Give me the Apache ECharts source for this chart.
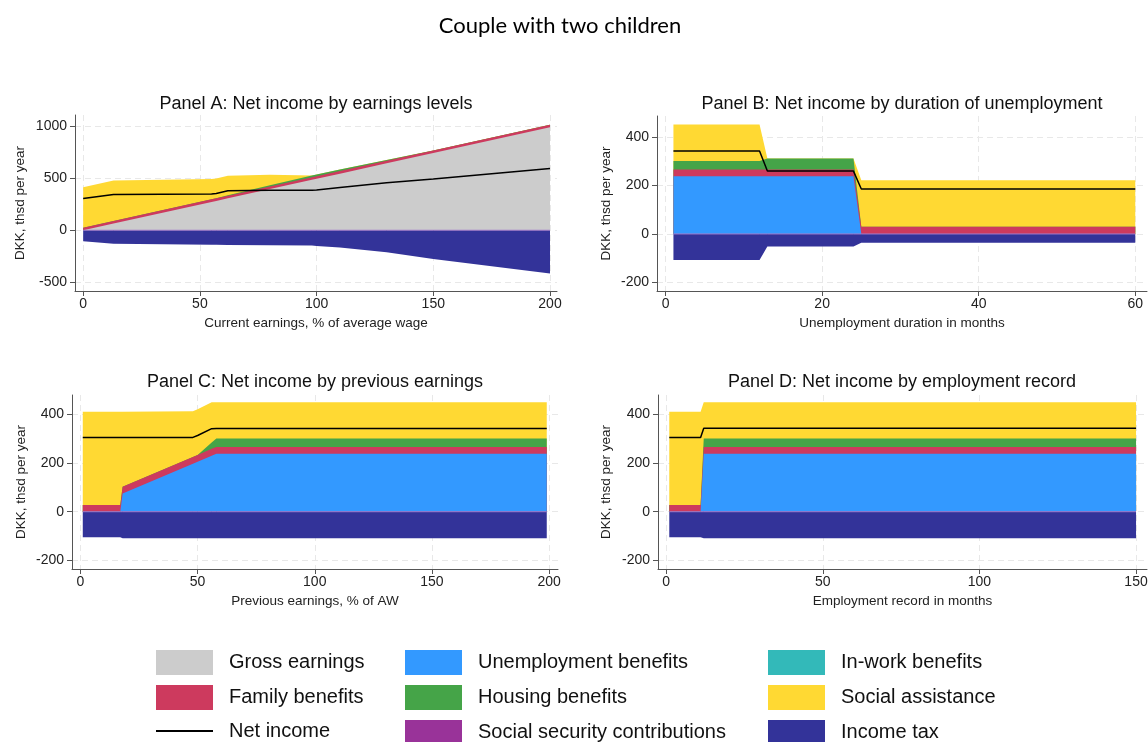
<!DOCTYPE html>
<html><head><meta charset="utf-8">
<script src="https://cdn.jsdelivr.net/npm/echarts@6/dist/echarts.min.js"></script>
<style>html,body{margin:0;padding:0;background:#fff}#c{width:1148px;height:742px}</style>
</head><body><div id="c"></div>
<script>
// ---------- Panel A: by earnings levels (% of average wage) ----------
const aX       = [0, 13, 55, 57, 62, 80, 98, 100, 110, 130, 150, 200];
const aGross   = [0, 64, 271, 281, 306, 394, 483, 493, 542, 641, 740, 986];
const aFamily  = [25, 25, 25, 25, 25, 25, 25, 25, 25, 25, 25, 25];
const aHousing = [0, 0, 0, 0, 5, 12, 16, 16, 14, 6, 0, 0];
const aSocial  = [387, 387, 194, 189, 185, 100, 0, 0, 0, 0, 0, 0];
const aSSC     = [0, 0, 0, 0, 0, 0, 0, 0, 0, 0, 0, 0];
const aTax     = [-105, -130, -140, -140, -142, -144, -147, -150, -165, -210, -275, -415];
const aNet     = [305, 342, 348, 352, 378, 382, 383, 385, 410, 455, 490, 592];

// ---------- Panel B: by duration of unemployment (months) ----------
const bX       = [1, 12, 13, 24, 25, 60];
const bUB      = [238, 238, 238, 238, 0, 0];
const bFamily  = [28, 28, 28, 28, 30, 30];
const bHousing = [35, 35, 45, 45, 0, 0];
const bSocial  = [150, 150, 0, 0, 191, 191];
const bSSC     = [0, 0, 0, 0, 0, 0];
const bTax     = [-107, -107, -52, -52, -36, -36];
const bNet     = [342, 342, 259, 259, 185, 185];

// ---------- Panel C: by previous earnings (% of AW) ----------
const cX       = [1, 17, 18, 48, 50, 56, 58, 199];
const cUB      = [0, 0, 75, 197, 205, 230, 238, 238];
const cFamily  = [28, 28, 28, 28, 28, 28, 28, 28];
const cHousing = [0, 0, 0, 0, 0, 26, 35, 35];
const cSocial  = [382, 382, 307, 187, 188, 165, 148, 148];
const cSSC     = [0, 0, 0, 0, 0, 0, 0, 0];
const cTax     = [-105, -105, -109, -109, -109, -109, -109, -109];
const cNet     = [305, 305, 305, 305, 313, 341, 342, 342];

// ---------- Panel D: by employment record (months) ----------
const dX       = [1, 11, 12, 150];
const dUB      = [0, 0, 238, 238];
const dFamily  = [28, 28, 28, 28];
const dHousing = [0, 0, 35, 35];
const dSocial  = [382, 382, 148, 148];
const dSSC     = [0, 0, 0, 0];
const dTax     = [-105, -105, -109, -109];
const dNet     = [305, 305, 343, 343];

// ---------- tick labels ----------
const aXTicks = [0, 50, 100, 150, 200];
const aYTicks = [-500, 0, 500, 1000];
const bXTicks = [0, 20, 40, 60];
const cXTicks = [0, 50, 100, 150, 200];
const dXTicks = [0, 50, 100, 150];
const bcdYTicks = [-200, 0, 200, 400];

const F = 'Liberation Sans, Arial, sans-serif';
const C = {
  gross: '#cccccc', ub: '#3399ff', inwork: '#33b9b9', family: '#cd3a5e',
  housing: '#45a448', social: '#ffd933', ssc: '#993399', tax: '#333399'
};

// cumulative sums of stacked components (element-wise)
function cum() {
  const arrs = Array.prototype.slice.call(arguments);
  return arrs[0].map((_, i) => arrs.reduce((s, a) => s + a[i], 0));
}
function pts(xs, ys) { return xs.map((x, i) => [x, ys[i]]); }
function area(name, color, xs, ys, idx) {
  return { name, type: 'line', xAxisIndex: idx, yAxisIndex: idx, data: pts(xs, ys),
    symbol: 'none', color, lineStyle: { width: 0 },
    areaStyle: { color, opacity: 1, origin: 0 }, silent: true, z: 2 };
}
function sscLine(xs, ys, idx) {
  return { name: 'Social security contributions', type: 'line', xAxisIndex: idx, yAxisIndex: idx,
    data: pts(xs, ys), symbol: 'none', color: C.ssc,
    lineStyle: { width: 1, color: '#a27ccc' }, silent: true, z: 3 };
}
function netLine(xs, ys, idx) {
  return { name: 'Net income', type: 'line', xAxisIndex: idx, yAxisIndex: idx, data: pts(xs, ys),
    symbol: 'none', color: '#000', lineStyle: { width: 1.5, color: '#000' }, silent: true, z: 4 };
}
// draws the stacked layers top-down so each band shows between its top and the one below
function panel(idx, xs, base, baseName, baseColor, fam, hous, soc, tax, ssc, net) {
  return [
    area('Social assistance', C.social, xs, cum(base, fam, hous, soc), idx),
    area('Housing benefits', C.housing, xs, cum(base, fam, hous), idx),
    area('Family benefits', C.family, xs, cum(base, fam), idx),
    area(baseName, baseColor, xs, base, idx),
    area('Income tax', C.tax, xs, tax, idx),
    sscLine(xs, ssc, idx),
    netLine(xs, net, idx)
  ];
}

const axisCommon = {
  type: 'value',
  axisLine: { show: true, onZero: false, lineStyle: { color: '#555', width: 1 } },
  splitLine: { show: true, lineStyle: { color: '#e8e8e8', type: [6, 4], width: 1 } },
  nameLocation: 'middle',
  nameTextStyle: { fontSize: 13.5, color: '#222', fontFamily: F }
};
function xAx(idx, min, max, ticks, name, gap) {
  return Object.assign({}, axisCommon, {
    gridIndex: idx, min, max, name, nameGap: gap, position: 'bottom',
    axisTick: { show: true, length: 5, customValues: ticks, lineStyle: { color: '#555' } },
    axisLabel: { customValues: ticks, fontSize: 14, color: '#222', margin: 6, fontFamily: F,
      formatter: v => String(v) }
  });
}
function yAx(idx, min, max, ticks, gap) {
  return Object.assign({}, axisCommon, {
    gridIndex: idx, min, max, name: 'DKK, thsd per year', nameGap: gap, position: 'left',
    axisTick: { show: true, length: 5, customValues: ticks, lineStyle: { color: '#555' } },
    axisLabel: { customValues: ticks, fontSize: 14, color: '#222', margin: 8, fontFamily: F,
      formatter: v => String(v) }
  });
}

const titleStyle = { fontFamily: F, fontSize: 18, fontWeight: 'normal', color: '#111' };
const legendText = { fontFamily: F, fontSize: 20, color: '#111', padding: [0, 0, 0, 11] };
function legend(left, top, itemHeight, items) {
  return { left, top, height: 110, padding: 0, orient: 'vertical', itemWidth: 57, itemHeight, itemGap: 10,
    selectedMode: false, textStyle: legendText, data: items };
}

const option = {
  animation: false,
  backgroundColor: '#fff',
  title: [
    { text: 'Couple with two children', left: 560, top: 15, textAlign: 'center', padding: 0,
      textStyle: { fontFamily: 'Lato, sans-serif', fontSize: 22, fontWeight: 'normal', color: '#000' } },
    { text: 'Panel A: Net income by earnings levels', left: 316, top: 95, textAlign: 'center', padding: 0, textStyle: titleStyle },
    { text: 'Panel B: Net income by duration of unemployment', left: 902, top: 95, textAlign: 'center', padding: 0, textStyle: titleStyle },
    { text: 'Panel C: Net income by previous earnings', left: 315, top: 373, textAlign: 'center', padding: 0, textStyle: titleStyle },
    { text: 'Panel D: Net income by employment record', left: 902, top: 373, textAlign: 'center', padding: 0, textStyle: titleStyle }
  ],
  grid: [
    { left: 75, top: 115, width: 482, height: 176, containLabel: false, outerBoundsMode: 'none' },
    { left: 657, top: 116, width: 490, height: 175, containLabel: false, outerBoundsMode: 'none' },
    { left: 72, top: 395, width: 486, height: 174, containLabel: false, outerBoundsMode: 'none' },
    { left: 658, top: 395, width: 489, height: 174, containLabel: false, outerBoundsMode: 'none' }
  ],
  xAxis: [
    xAx(0, -3.5, 203, aXTicks, 'Current earnings, % of average wage', 25),
    xAx(1, -1.1, 61.5, bXTicks, 'Unemployment duration in months', 25),
    xAx(2, -3.6, 203.8, cXTicks, 'Previous earnings, % of AW', 25),
    xAx(3, -2.6, 153.5, dXTicks, 'Employment record in months', 25)
  ],
  yAxis: [
    yAx(0, -582, 1104, aYTicks, 48),
    yAx(1, -235, 486, bcdYTicks, 44),
    yAx(2, -235, 479, bcdYTicks, 44),
    yAx(3, -235, 479, bcdYTicks, 45)
  ],
  legend: [
    legend(156, 650, 25, [{ name: 'Gross earnings', icon: 'rect' }, { name: 'Family benefits', icon: 'rect' }]),
    legend(156, 721, 2, [{ name: 'Net income', icon: 'rect', itemStyle: { color: '#000' } }]),
    legend(405, 650, 25, [{ name: 'Unemployment benefits', icon: 'rect' }, { name: 'Housing benefits', icon: 'rect' },
                 { name: 'Social security contributions', icon: 'rect', itemStyle: { color: C.ssc } }]),
    legend(768, 650, 25, [{ name: 'In-work benefits', icon: 'rect' }, { name: 'Social assistance', icon: 'rect' }, { name: 'Income tax', icon: 'rect' }])
  ],
  series: [].concat(
    panel(0, aX, aGross, 'Gross earnings', C.gross, aFamily, aHousing, aSocial, aTax, aSSC, aNet),
    [
      { name: 'Unemployment benefits', type: 'line', xAxisIndex: 0, yAxisIndex: 0, data: [], color: C.ub, symbol: 'none' },
      { name: 'In-work benefits', type: 'line', xAxisIndex: 0, yAxisIndex: 0, data: [], color: C.inwork, symbol: 'none' }
    ],
    panel(1, bX, bUB, 'Unemployment benefits', C.ub, bFamily, bHousing, bSocial, bTax, bSSC, bNet),
    panel(2, cX, cUB, 'Unemployment benefits', C.ub, cFamily, cHousing, cSocial, cTax, cSSC, cNet),
    panel(3, dX, dUB, 'Unemployment benefits', C.ub, dFamily, dHousing, dSocial, dTax, dSSC, dNet)
  )
};
const chart = echarts.init(document.getElementById('c'), null, { renderer: 'canvas' });
chart.setOption(option);
</script>
</body></html>
